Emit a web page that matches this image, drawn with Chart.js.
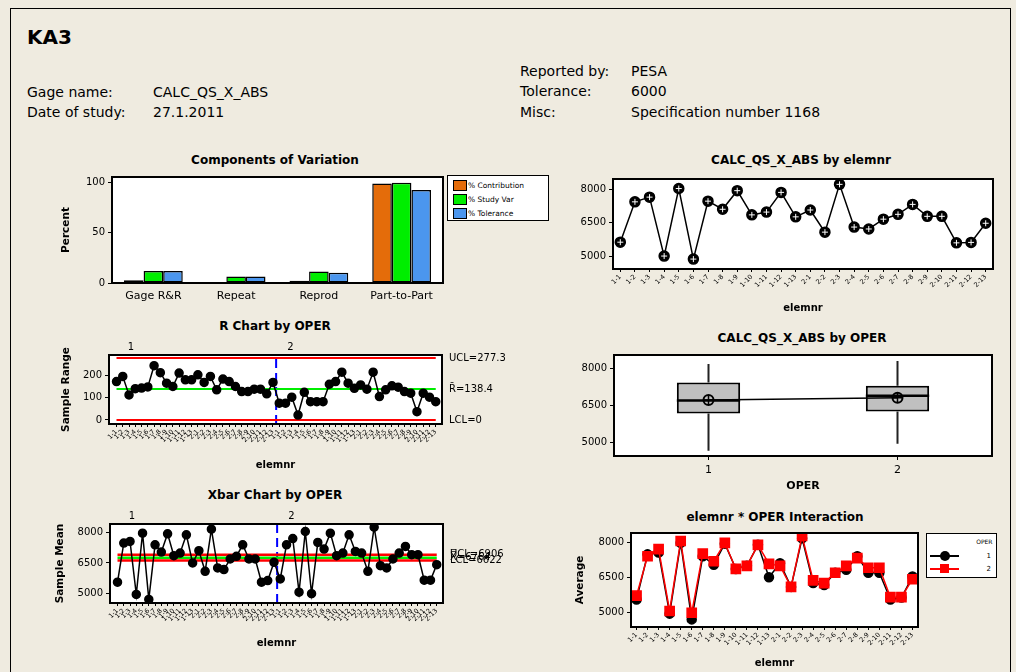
<!DOCTYPE html>
<html>
<head>
<meta charset="utf-8">
<title>Gage R&amp;R Report – KA3</title>
<script src="https://cdn.jsdelivr.net/npm/chart.js@4.4.1/dist/chart.umd.min.js"></script>
<style>
  html, body { margin:0; padding:0; background:#efebe0; }
  #report { position:relative; width:1016px; height:672px; overflow:hidden; background:#efebe0;
            font-family:'DejaVu Sans', sans-serif; color:#000; }
  #report .frame { position:absolute; left:10px; top:8px; width:1001px; height:700px;
                   border:1px solid #000; border-bottom:none; box-sizing:border-box; }
  .hd { position:absolute; white-space:nowrap; font-size:14px; line-height:16px; }
  .title { position:absolute; white-space:nowrap; font-weight:bold; font-size:12px; line-height:14px;
           transform:translateX(-50%); }
  canvas { position:absolute; }
  .legend { position:absolute; background:#fff; border:1.5px solid #000; box-sizing:border-box; }
  .legend > * { position:absolute; white-space:nowrap; }
  .legend .sw { width:14px; height:11px; border:1px solid #000; box-sizing:border-box; }
  .legend .lt { font-size:7.5px; line-height:11px; }
</style>
</head>
<body>
<div id="report">
  <div class="frame"></div>

  <div class="hd" style="left:27px;top:26px;font-size:20px;line-height:22px;font-weight:bold;">KA3</div>
  <div class="hd" style="left:27px;top:84px;">Gage name:</div>
  <div class="hd" style="left:153px;top:84px;">CALC_QS_X_ABS</div>
  <div class="hd" style="left:27px;top:104px;">Date of study:</div>
  <div class="hd" style="left:153px;top:104px;">27.1.2011</div>
  <div class="hd" style="left:520px;top:63px;">Reported by:</div>
  <div class="hd" style="left:631px;top:63px;">PESA</div>
  <div class="hd" style="left:520px;top:83px;">Tolerance:</div>
  <div class="hd" style="left:631px;top:83px;">6000</div>
  <div class="hd" style="left:520px;top:104px;">Misc:</div>
  <div class="hd" style="left:631px;top:104px;">Specification number 1168</div>

  <div class="title" style="left:275px;top:153px;">Components of Variation</div>
  <div class="title" style="left:275px;top:319px;">R Chart by OPER</div>
  <div class="title" style="left:275px;top:488px;">Xbar Chart by OPER</div>
  <div class="title" style="left:801px;top:153px;">CALC_QS_X_ABS by elemnr</div>
  <div class="title" style="left:802px;top:331px;">CALC_QS_X_ABS by OPER</div>
  <div class="title" style="left:775px;top:510px;">elemnr * OPER Interaction</div>

  <canvas id="cov"      width="405" height="140" style="left:55px;top:168px;width:405px;height:140px;"></canvas>
  <canvas id="rchart"   width="460" height="132" style="left:55px;top:340px;width:460px;height:132px;"></canvas>
  <canvas id="xbar"     width="470" height="145" style="left:50px;top:505px;width:470px;height:145px;"></canvas>
  <canvas id="byPart"   width="440" height="145" style="left:570px;top:170px;width:440px;height:145px;"></canvas>
  <canvas id="byOper"   width="440" height="150" style="left:570px;top:345px;width:440px;height:150px;"></canvas>
  <canvas id="interact" width="456" height="152" style="left:560px;top:520px;width:456px;height:152px;"></canvas>

  <div class="legend" style="left:447px;top:175px;width:102px;height:46px;">
    <div class="sw" style="left:4.5px;top:3.5px;background:#e46c0a;"></div><div class="lt" style="left:20px;top:3.5px;">% Contribution</div>
    <div class="sw" style="left:4.5px;top:17.5px;background:#00ee00;"></div><div class="lt" style="left:20px;top:17.5px;">% Study Var</div>
    <div class="sw" style="left:4.5px;top:31.5px;background:#4b96ee;"></div><div class="lt" style="left:20px;top:31.5px;">% Tolerance</div>
  </div>

  <div class="legend" style="left:926px;top:533px;width:71px;height:45px;">
    <div style="right:3.5px;top:4px;font-size:6px;line-height:7px;">OPER</div>
    <div style="left:2.5px;top:20.5px;width:29px;height:2px;background:#000;"></div>
    <div style="left:12.5px;top:16.5px;width:10px;height:10px;border-radius:50%;background:#000;"></div>
    <div style="right:5px;top:17.5px;font-size:7px;line-height:8px;">1</div>
    <div style="left:2.5px;top:33.5px;width:29px;height:2px;background:#ff0000;"></div>
    <div style="left:13px;top:30px;width:9px;height:9px;background:#ff0000;"></div>
    <div style="right:5px;top:30.5px;font-size:7px;line-height:8px;">2</div>
  </div>
</div>

<script>
// ---------- measurement summary ----------
const elemLabels = ['1-1','1-2','1-3','1-4','1-5','1-6','1-7','1-8','1-9','1-10','1-11','1-12','1-13',
                    '2-1','2-2','2-3','2-4','2-5','2-6','2-7','2-8','2-9','2-10','2-11','2-12','2-13'];
const operators = ['1', '2'];

// Components of variation (%)
const covCategories   = ['Gage R&R', 'Repeat', 'Reprod', 'Part-to-Part'];
const pctContribution = [2.8, 0.8, 2.2, 98.5];
const pctStudyVar     = [12.0, 6.5, 11.5, 99.3];
const pctTolerance    = [12.0, 6.5, 10.2, 92.0];
const pctTicks        = [0, 50, 100];

// Sample ranges per part, operator 1 and operator 2
const rangeOper1 = [172, 195, 112, 140, 143, 148, 243, 212, 165, 150, 210, 180, 180,
                    202, 168, 195, 135, 183, 172, 150, 127, 127, 138, 138, 117, 168];
const rangeOper2 = [75, 75, 102, 22, 124, 82, 82, 82, 160, 172, 214, 165, 142,
                    157, 138, 214, 105, 135, 153, 147, 127, 120, 37, 120, 102, 82];
const rBar = 138.4, rUCL = 277.3, rLCL = 0;
const rTicks = [0, 100, 200];

// Sample means per part, operator 1 and operator 2
const meanOper1 = [5549, 7484, 7566, 4942, 7976, 4696, 7402, 7041, 7943, 6860, 6992, 7894, 6500,
                   7107, 6090, 8173, 6254, 6172, 6697, 6828, 7402, 6697, 6697, 5549, 5631, 6533];
const meanOper2 = [5713, 7402, 7710, 5057, 8058, 4980, 7517, 7189, 7976, 6860, 6992, 7894, 7074,
                   6992, 6090, 8271, 6369, 6254, 6697, 6992, 7320, 6910, 6910, 5647, 5647, 6418];
const xbarCenter = 6764, xbarUCL = 6906, xbarLCL = 6622;

// Part averages over both operators
const partMeans = [5628, 7430, 7640, 5008, 8024, 4873, 7460, 7098, 7929, 6848, 6972, 7852, 6760,
                   7066, 6076, 8211, 6303, 6218, 6656, 6872, 7316, 6782, 6782, 5598, 5618, 6473];
const valueTicks = [5000, 6500, 8000];

// Distribution by operator
const boxMin    = [4670, 4950];
const boxQ1     = [6180, 6260];
const boxMedian = [6700, 6890];
const boxQ3     = [7430, 7300];
const boxMax    = [8180, 8300];
const boxMean   = [6718, 6811];

// ---------- shared settings ----------
Chart.defaults.font.family = "'DejaVu Sans', sans-serif";
Chart.defaults.color = '#000';
Chart.defaults.animation = false;
Chart.defaults.responsive = false;
Chart.defaults.plugins.legend.display = false;
Chart.defaults.plugins.tooltip.enabled = false;

const sampleCount = rangeOper1.length + rangeOper2.length;
const sampleTicks = Array.from({length: sampleCount}, (_, i) => i + 1);
const operBreak = rangeOper1.length + 0.5;

// white plot area with a heavy black frame
const plotFrame = {
  id: 'plotFrame',
  beforeDraw(chart) {
    const {ctx, chartArea: a} = chart;
    ctx.save(); ctx.fillStyle = '#fff';
    ctx.fillRect(a.left, a.top, a.right - a.left, a.bottom - a.top);
    ctx.restore();
  },
  afterDraw(chart) {
    const {ctx, chartArea: a} = chart;
    ctx.save(); ctx.strokeStyle = '#000'; ctx.lineWidth = 2;
    ctx.strokeRect(a.left, a.top, a.right - a.left, a.bottom - a.top);
    ctx.restore();
  }
};

// control limit labels to the right of the plot
const controlLabels = {
  id: 'controlLabels',
  afterDraw(chart, args, opts) {
    const items = opts.items || [];
    const {ctx, chartArea, scales} = chart;
    ctx.save();
    ctx.font = "10px 'DejaVu Sans'"; ctx.fillStyle = '#000';
    ctx.textAlign = 'left'; ctx.textBaseline = 'middle';
    items.forEach(it => ctx.fillText(it.text, chartArea.right + 7, scales.y.getPixelForValue(it.value)));
    ctx.restore();
  }
};

// operator names above each operator's block of samples
const operatorMarks = {
  id: 'operatorMarks',
  afterDraw(chart, args, opts) {
    const items = opts.items || [];
    const {ctx, chartArea, scales} = chart;
    ctx.save();
    ctx.font = "10px 'DejaVu Sans'"; ctx.fillStyle = '#000';
    ctx.textAlign = 'center'; ctx.textBaseline = 'middle';
    items.forEach(it => ctx.fillText(it.text, scales.x.getPixelForValue(it.at), chartArea.top - 8));
    ctx.restore();
  }
};

// whiskers and median for the box plot (boxes themselves are floating bars)
const boxWhiskers = {
  id: 'boxWhiskers',
  afterDatasetDraw(chart, args) {
    if (args.meta.type !== 'bar') return;
    const {ctx} = chart; const y = chart.scales.y;
    ctx.save();
    args.meta.data.forEach((bar, i) => {
      const x = bar.x, half = bar.width / 2;
      ctx.strokeStyle = '#222'; ctx.lineWidth = 2;
      ctx.beginPath();
      ctx.moveTo(x, y.getPixelForValue(boxQ3[i])); ctx.lineTo(x, y.getPixelForValue(boxMax[i]));
      ctx.moveTo(x, y.getPixelForValue(boxQ1[i])); ctx.lineTo(x, y.getPixelForValue(boxMin[i]));
      ctx.stroke();
      ctx.strokeStyle = '#000'; ctx.lineWidth = 2.5;
      const ym = y.getPixelForValue(boxMedian[i]);
      ctx.beginPath(); ctx.moveTo(x - half, ym); ctx.lineTo(x + half, ym); ctx.stroke();
    });
    ctx.restore();
  }
};

function valueAxis(min, max, ticks, width, title, titlePad) {
  return {
    type: 'linear', min, max,
    afterBuildTicks: s => { s.ticks = ticks.map(v => ({value: v})); },
    afterFit: s => { s.width = width; },
    grid: {drawOnChartArea: false, drawTicks: true, tickLength: 4, color: '#000'},
    border: {display: false},
    ticks: {font: {size: 10}, color: '#000', padding: 3, callback: v => String(v)},
    title: title ? {display: true, text: title, color: '#000',
                    font: {size: 10.5, weight: 'bold'}, padding: {top: titlePad, bottom: 0}}
                 : {display: false}
  };
}

function partAxis(height, titlePad) {
  return {
    type: 'category', offset: true,
    afterFit: s => { s.height = height; },
    grid: {drawOnChartArea: false, offset: false, drawTicks: true, tickLength: 3, color: '#000'},
    border: {display: false},
    ticks: {autoSkip: false, minRotation: 45, maxRotation: 45, font: {size: 6.5}, padding: 1, color: '#000'},
    title: {display: true, text: 'elemnr', color: '#000', font: {size: 10, weight: 'bold'},
            padding: {top: 0, bottom: titlePad}}
  };
}

function sampleAxis(height, titlePad) {
  return {
    type: 'linear', min: -0.2, max: sampleCount + 1,
    afterBuildTicks: s => { s.ticks = sampleTicks.map(v => ({value: v})); },
    afterFit: s => { s.height = height; },
    grid: {drawOnChartArea: false, drawTicks: true, tickLength: 3, color: '#000'},
    border: {display: false},
    ticks: {autoSkip: false, minRotation: 45, maxRotation: 45, font: {size: 6.5}, padding: 1, color: '#000',
            callback: v => elemLabels[(v - 1) % elemLabels.length]},
    title: {display: true, text: 'elemnr', color: '#000', font: {size: 10, weight: 'bold'},
            padding: {top: 0, bottom: titlePad}}
  };
}

const toXY = arr => arr.map((v, i) => ({x: i + 1, y: v}));
const limitLine = (value, color, width) => ({
  data: [{x: 1, y: value}, {x: sampleCount, y: value}],
  borderColor: color, borderWidth: width, pointRadius: 0
});
const operDivider = (lo, hi) => ({
  data: [{x: operBreak, y: lo}, {x: operBreak, y: hi}],
  borderColor: '#0000ff', borderWidth: 2, borderDash: [9, 5], pointRadius: 0
});

// ---------- Components of Variation ----------
new Chart(document.getElementById('cov'), {
  type: 'bar',
  data: {
    labels: covCategories,
    datasets: [
      {label: '% Contribution', data: pctContribution, backgroundColor: '#e46c0a'},
      {label: '% Study Var',    data: pctStudyVar,     backgroundColor: '#00ee00'},
      {label: '% Tolerance',    data: pctTolerance,    backgroundColor: '#4b96ee'}
    ]
  },
  options: {
    layout: {padding: {left: 0, top: 9, right: 17, bottom: 0}},
    datasets: {bar: {categoryPercentage: 0.71, barPercentage: 1, borderColor: '#000', borderWidth: 1.5, borderSkipped: false}},
    scales: {
      x: {
        type: 'category', offset: true,
        afterFit: s => { s.height = 25; },
        grid: {display: false, drawTicks: false},
        border: {display: false},
        ticks: {font: {size: 11}, padding: 7, color: '#000'}
      },
      y: valueAxis(0, 105, pctTicks, 57, 'Percent', 5)
    }
  },
  plugins: [plotFrame]
});

// ---------- R Chart by OPER ----------
new Chart(document.getElementById('rchart'), {
  type: 'line',
  data: {
    datasets: [
      {data: toXY(rangeOper1.concat(rangeOper2)), borderColor: '#000', borderWidth: 1.5,
       pointRadius: 4, pointBackgroundColor: '#000', pointBorderColor: '#000'},
      limitLine(rBar, '#00ee00', 2),
      limitLine(rUCL, '#ff0000', 2),
      limitLine(rLCL, '#ff0000', 2),
      operDivider(-18, 291)
    ]
  },
  options: {
    layout: {padding: {left: 0, top: 15, right: 73, bottom: 0}},
    scales: {
      x: sampleAxis(48, 1),
      y: valueAxis(-18, 291, rTicks, 54, 'Sample Range', 5.4)
    },
    plugins: {
      controlLabels: {items: [
        {text: 'UCL=' + rUCL, value: rUCL},
        {text: 'R\u0304=' + rBar, value: rBar},
        {text: 'LCL=' + rLCL, value: rLCL}
      ]},
      operatorMarks: {items: [{text: operators[0], at: 3.3}, {text: operators[1], at: 28.8}]}
    }
  },
  plugins: [plotFrame, controlLabels, operatorMarks]
});

// ---------- Xbar Chart by OPER ----------
new Chart(document.getElementById('xbar'), {
  type: 'line',
  data: {
    datasets: [
      {data: toXY(meanOper1.concat(meanOper2)), borderColor: '#000', borderWidth: 1.5,
       pointRadius: 4, pointBackgroundColor: '#000', pointBorderColor: '#000'},
      limitLine(xbarCenter, '#00ee00', 2.5),
      limitLine(xbarUCL, '#ff0000', 2.5),
      limitLine(xbarLCL, '#ff0000', 2.5),
      operDivider(4520, 8430)
    ]
  },
  options: {
    layout: {padding: {left: 0, top: 19, right: 77, bottom: 0}},
    scales: {
      x: sampleAxis(47, 1),
      y: valueAxis(4520, 8430, valueTicks, 60, 'Sample Mean', 3.7)
    },
    plugins: {
      controlLabels: {items: [
        {text: 'UCL=' + xbarUCL, value: xbarUCL},
        {text: 'X\u033F=' + xbarCenter, value: xbarCenter},
        {text: 'LCL=' + xbarLCL, value: xbarLCL}
      ]},
      operatorMarks: {items: [{text: operators[0], at: 3.3}, {text: operators[1], at: 28.8}]}
    }
  },
  plugins: [plotFrame, controlLabels, operatorMarks]
});

// ---------- CALC_QS_X_ABS by elemnr ----------
new Chart(document.getElementById('byPart'), {
  type: 'line',
  data: {
    labels: elemLabels,
    datasets: [
      {data: partMeans, showLine: false, pointStyle: 'cross', pointRadius: 3,
       pointBorderColor: '#fff', pointBorderWidth: 1},
      {data: partMeans, borderColor: '#000', borderWidth: 1.5,
       pointRadius: 5, pointBackgroundColor: '#000', pointBorderColor: '#000'}
    ]
  },
  options: {
    layout: {padding: {left: 0, top: 7, right: 17, bottom: 0}},
    scales: {
      x: partAxis(46, 1),
      y: valueAxis(4430, 8450, valueTicks, 43, null, 0)
    }
  },
  plugins: [plotFrame]
});

// ---------- CALC_QS_X_ABS by OPER (box plot) ----------
new Chart(document.getElementById('byOper'), {
  type: 'bar',
  data: {
    labels: operators,
    datasets: [
      {type: 'line', data: boxMean, showLine: false, pointStyle: 'cross', pointRadius: 5,
       pointBorderColor: '#000', pointBorderWidth: 1.5},
      {type: 'line', data: boxMean, borderColor: '#000', borderWidth: 1.5, pointStyle: 'circle',
       pointRadius: 5, pointBackgroundColor: 'rgba(0,0,0,0)', pointBorderColor: '#000', pointBorderWidth: 2},
      {type: 'bar', data: boxQ1.map((q, i) => [q, boxQ3[i]]), backgroundColor: '#c0c0c0',
       borderColor: '#000', borderWidth: 2, borderSkipped: false,
       categoryPercentage: 1, barPercentage: 0.335}
    ]
  },
  options: {
    layout: {padding: {left: 0, top: 10, right: 18, bottom: 0}},
    scales: {
      x: {
        type: 'category', offset: true,
        afterFit: s => { s.height = 39; },
        grid: {drawOnChartArea: false, offset: false, drawTicks: true, tickLength: 4, color: '#000'},
        border: {display: false},
        ticks: {font: {size: 11}, padding: 4, color: '#000'},
        title: {display: true, text: 'OPER', color: '#000', font: {size: 11, weight: 'bold'},
                padding: {top: 0, bottom: 2.4}}
      },
      y: valueAxis(4460, 8540, valueTicks, 44, null, 0)
    }
  },
  plugins: [plotFrame, boxWhiskers]
});

// ---------- elemnr * OPER Interaction ----------
new Chart(document.getElementById('interact'), {
  type: 'line',
  data: {
    labels: elemLabels,
    datasets: [
      {label: operators[1], data: meanOper2, borderColor: '#ff0000', borderWidth: 1.5,
       pointStyle: 'rect', pointRadius: 6.5, pointBackgroundColor: '#ff0000', pointBorderColor: '#ff0000'},
      {label: operators[0], data: meanOper1, borderColor: '#000', borderWidth: 1.5,
       pointStyle: 'circle', pointRadius: 4.5, pointBackgroundColor: '#000', pointBorderColor: '#000'}
    ]
  },
  options: {
    layout: {padding: {left: 0, top: 13, right: 98, bottom: 0}},
    scales: {
      x: partAxis(45, 3),
      y: valueAxis(4370, 8400, valueTicks, 71, 'Average', 13.7)
    }
  },
  plugins: [plotFrame]
});
</script>
</body>
</html>
